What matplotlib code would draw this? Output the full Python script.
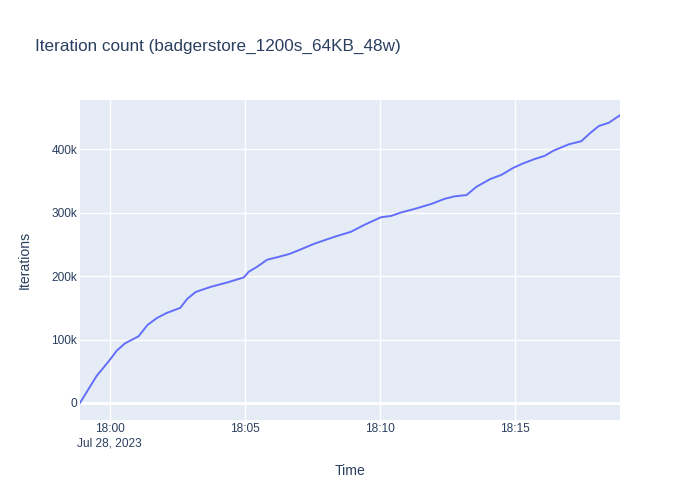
"""Iteration count chart (plotly-like look)."""
import datetime as dt
import matplotlib
matplotlib.use("Agg")
import matplotlib.pyplot as plt
import matplotlib.dates as mdates
from matplotlib.ticker import FuncFormatter, MultipleLocator

START = dt.datetime(2023, 7, 28, 17, 58, 54)

# seconds since start
elapsed_s = [0, 37, 63, 82, 100, 130, 150, 171, 193, 223, 238, 257, 290, 327,
             364, 375, 394, 416, 439, 465, 483, 520, 565, 602, 632, 669, 691,
             714, 743, 781, 810, 833, 859, 881, 911, 937, 963, 985, 1011, 1033,
             1052, 1086, 1114, 1134, 1153, 1175, 1200]
iterations = [0, 42600, 65000, 82600, 94000, 105000, 123000, 134000, 142000,
              150000, 164000, 175000, 183000, 190000, 198000, 207000, 215000,
              226000, 230000, 235000, 240000, 251000, 262000, 270000, 281000,
              293000, 295000, 300600, 306000, 314000, 322000, 326000, 328000,
              341000, 353000, 360000, 371000, 378000, 385000, 390000, 398000,
              408000, 413000, 426000, 437000, 442000, 454000]

times = [START + dt.timedelta(seconds=s) for s in elapsed_s]

TXT = "#2a3f5f"
FONT = "Liberation Sans"
plt.rcParams["font.family"] = [FONT, "DejaVu Sans"]

fig = plt.figure(figsize=(7, 5), dpi=100)
ax = fig.add_axes([80 / 700, 80 / 500, 540 / 700, 320 / 500])
ax.set_facecolor("#E5ECF6")
for s in ax.spines.values():
    s.set_visible(False)

ax.plot(times, iterations, color="#636EFA", lw=1.4, zorder=3)

ax.set_xlim(times[0], times[-1])
ax.set_ylim(-27000, 478000)

ax.yaxis.set_major_locator(MultipleLocator(100000))
ax.yaxis.set_major_formatter(FuncFormatter(lambda v, p: "0" if v == 0 else f"{int(v / 1000)}k"))
ax.xaxis.set_major_locator(mdates.MinuteLocator(byminute=range(0, 60, 5)))


def xfmt(v, p):
    d = mdates.num2date(v)
    lab = d.strftime("%H:%M")
    if p == 0:
        lab += "\nJul 28, 2023"
    return lab


ax.xaxis.set_major_formatter(FuncFormatter(xfmt))
ax.grid(True, color="white", lw=1, zorder=1)
ax.axhline(0, color="white", lw=2, zorder=2)
ax.tick_params(length=0, labelsize=8.6, labelcolor=TXT)
ax.tick_params(axis="y", pad=2)
ax.tick_params(axis="x", pad=2.5)

fig.text(35 / 700, 1 - 46 / 500, "Iteration count (badgerstore_1200s_64KB_48w)",
         fontsize=12.3, color=TXT, va="center", ha="left")
fig.text(350 / 700, 1 - 471 / 500, "Time", fontsize=10.1, color=TXT,
         ha="center", va="center")
fig.text(25 / 700, 1 - 260 / 500, "Iterations", fontsize=10.1, color=TXT,
         ha="center", va="center", rotation=90)

fig.savefig("out.png", dpi=100)
